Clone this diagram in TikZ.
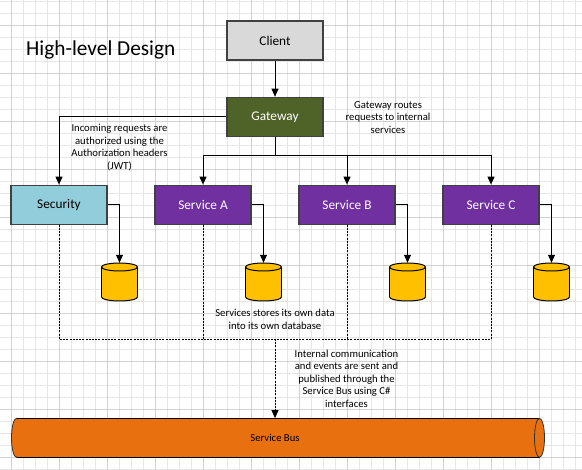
\documentclass[tikz,border=0pt]{standalone}
\usepackage{fontspec}
\setmainfont{Carlito}
\usetikzlibrary{arrows.meta,calc}
\definecolor{gridminor}{HTML}{E6E6E6}
\definecolor{gridmajor}{HTML}{D2D2D2}
\definecolor{clientfill}{HTML}{D9D9D9}
\definecolor{gwfill}{HTML}{4F6228}
\definecolor{secfill}{HTML}{92CDDC}
\definecolor{svcfill}{HTML}{7030A0}
\definecolor{dbfill}{HTML}{FFC000}
\definecolor{busfill}{HTML}{E8700F}
\definecolor{boxline}{HTML}{404040}
\newcommand\mydb[2]{%
  \node[dbnode] (#1) at (#2,282) {};
  \filldraw[dbstyle] (#2,297) ellipse (18 and 4);
  \fill[dbfill] (#2-18,267) rectangle (#2+18,297);
  \draw[dbline] (#2-18,267) -- (#2-18,297) (#2+18,267) -- (#2+18,297);
  \filldraw[dbstyle] (#2,267) ellipse (18 and 4);
}
\begin{document}
\begin{tikzpicture}[x=1pt,y=-1pt,
  minorline/.style={draw=gridminor, line width=0.8pt},
  majorline/.style={draw=gridmajor, line width=0.8pt},
  box/.style={draw=boxline, line width=1.2pt, minimum width=96pt, minimum height=39pt,
    inner sep=0pt, font=\fontsize{13.3}{16}\selectfont},
  note/.style={align=center, inner sep=0pt, font=\fontsize{10.67}{12.6}\selectfont},
  arr/.style={draw=black, line width=1pt, -{Triangle[length=8pt,width=7pt]}},
  dashln/.style={draw=black, line width=0.8pt, dash pattern=on 2pt off 1.2pt},
  dbnode/.style={minimum width=36pt, minimum height=38pt, inner sep=0pt},
  dbstyle/.style={fill=dbfill, draw=black, line width=1pt},
  dbline/.style={draw=black, line width=1pt}]
\useasboundingbox (0,0) rectangle (582,470);
\fill[white] (0,0) rectangle (582,470);
% grid
\foreach \i in {0,...,47} \draw[minorline] ({11.3+12*\i},0) -- ({11.3+12*\i},470);
\foreach \i in {0,...,39} \draw[minorline] (0,{1.3+12*\i}) -- (582,{1.3+12*\i});
\foreach \i in {0,...,11} \draw[majorline] ({11.3+48*\i},0) -- ({11.3+48*\i},470);
\foreach \i in {0,...,9} \draw[majorline] (0,{25.3+48*\i}) -- (582,{25.3+48*\i});

% title
\node[anchor=west, inner sep=0pt, font=\fontsize{21.3}{25}\selectfont] (title) at (26,50) {High-level Design};

% boxes
\node[box, fill=clientfill] (client) at (275,40.5) {Client};
\node[box, fill=gwfill, text=white] (gw) at (275,116.8) {Gateway};
\node[box, fill=secfill] (sec) at (59,204.7) {Security};
\node[box, fill=svcfill, text=white] (sa) at (203,204.7) {Service A};
\node[box, fill=svcfill, text=white] (sb) at (347,204.7) {Service B};
\node[box, fill=svcfill, text=white] (sc) at (491,204.7) {Service C};

% databases
\mydb{db1}{119.5}
\mydb{db2}{263.5}
\mydb{db3}{407.5}
\mydb{db4}{551.5}

% service bus
\node[minimum width=523pt, minimum height=39pt, inner sep=0pt] (bus) at (275,437.8) {};
\filldraw[fill=busfill, draw=black!80, line width=0.8pt] (16.5,437.8) ellipse (5 and 19.5);
\fill[busfill] (16.5,418.3) rectangle (539.5,457.3);
\draw[black, line width=1.2pt] (16.5,418.3) -- (539.5,418.3) (16.5,457.3) -- (539.5,457.3);
\filldraw[fill=busfill, draw=black!80, line width=0.8pt] (539.5,437.8) ellipse (5 and 19.5);
\node[note] (buslabel) at (275,437.8) {Service Bus};

% connectors
\draw[arr] (client) -- (gw);
\draw[arr] (gw.west) -| (sec.north);
\coordinate (split) at (275,155.5);
\draw[line width=1pt] (gw.south) -- (split);
\draw[arr] (split) -| (sa.north);
\draw[arr] (split) -| (sb.north);
\draw[arr] (split) -| (sc.north);

\draw[arr] (sec.east) -| (db1.north);
\draw[arr] (sa.east) -| (db2.north);
\draw[arr] (sb.east) -| (db3.north);
\draw[arr] (sc.east) -| (db4.north);

\coordinate (dj) at (275,339);
\draw[dashln] (sec.south) |- (dj);
\draw[dashln] (sc.south) |- (dj);
\draw[dashln] (sa.south) -- (sa.south |- dj);
\draw[dashln] (sb.south) -- (sb.south |- dj);
\draw[dashln, -{Triangle[length=8pt,width=7pt]}] (dj) -- (bus.north);

% notes
\node[note] (gwnote) at (388,117.2) {Gateway routes\\requests to internal\\services};
\node[note] (secnote) at (119.5,147.4) {Incoming requests are\\authorized using the\\Authorization headers\\(JWT)};
\node[note] (dbnote) at (275,319.3) {Services stores its own data\\into its own database};
\node[note] (busnote) at (346.5,378.7) {Internal communication\\and events are sent and\\published through the\\Service Bus using C\#\\interfaces};
\end{tikzpicture}
\end{document}
